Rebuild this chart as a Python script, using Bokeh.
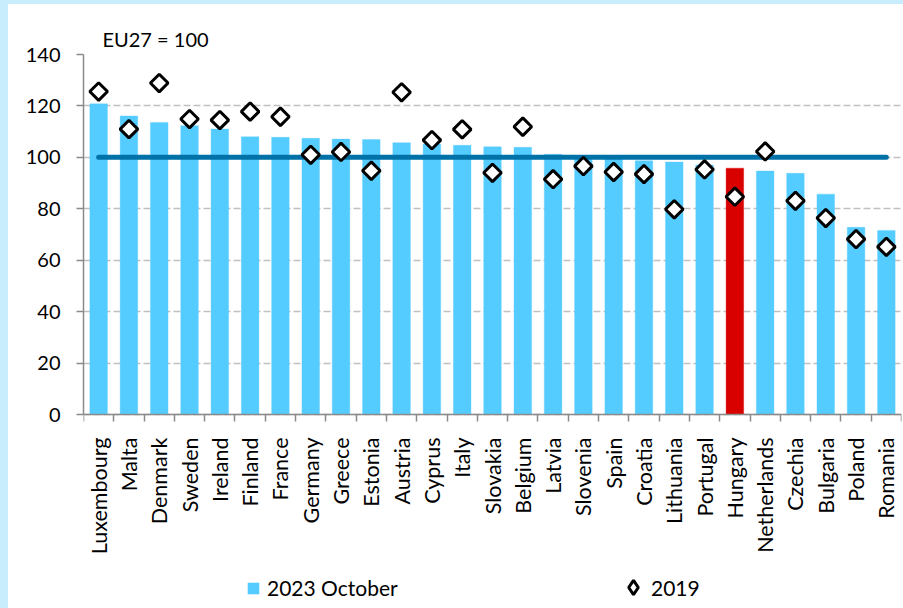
import math
from bokeh.plotting import figure
from bokeh.layouts import column, row
from bokeh.models import (ColumnDataSource, FixedTicker, Legend, LegendItem, Range1d,
                          Spacer)
from bokeh.embed import file_html
from bokeh.resources import INLINE

# ---- data ----
countries = ["Luxembourg", "Malta", "Denmark", "Sweden", "Ireland", "Finland", "France",
             "Germany", "Greece", "Estonia", "Austria", "Cyprus", "Italy", "Slovakia",
             "Belgium", "Latvia", "Slovenia", "Spain", "Croatia", "Lithuania", "Portugal",
             "Hungary", "Netherlands", "Czechia", "Bulgaria", "Poland", "Romania"]
values_2023_oct = [120.8, 116.1, 113.6, 112.3, 111.0, 108.0, 107.8, 107.4, 107.1, 106.9,
                   105.7, 105.2, 104.7, 104.1, 103.9, 101.2, 100.5, 99.6, 98.7, 98.2,
                   97.0, 95.8, 94.7, 93.8, 85.7, 72.8, 71.6]
values_2019 = [125.6, 111.0, 128.9, 114.9, 114.5, 117.8, 115.8, 101.0, 102.1, 94.8,
               125.3, 106.7, 110.9, 94.0, 111.9, 91.5, 96.6, 94.3, 93.5, 79.8,
               95.3, 84.7, 102.3, 83.1, 76.4, 68.2, 65.2]
eu27_reference = [100] * len(countries)
highlight_country = "Hungary"
y_ticks = [0, 20, 40, 60, 80, 100, 120, 140]
title_text = "EU27 = 100"
legend_bar_label = "2023 October"
legend_marker_label = "2019"

# ---- styles / layout ----
BAR = "#55CCFF"
HIGHLIGHT = "#D90000"
LINE = "#0072A8"
AXIS = "#8A8A8A"
FRAME_BG = "#C8EDFD"
FONT = "Lato"
EDGE_L, EDGE_T = 8, 4
W, H = 903 - EDGE_L, 608 - EDGE_T
TOP, ZERO_PX = 50, 410          # pixel rows (in the figure) of the top tick and of zero
y_low = -(y_ticks[-1] - y_ticks[0]) * (H - ZERO_PX) / (ZERO_PX - TOP)

n = len(countries)
xs = list(range(n))
colors = [HIGHLIGHT if c == highlight_country else BAR for c in countries]
src = ColumnDataSource(dict(x=xs, v23=values_2023_oct, v19=values_2019,
                            ref=eu27_reference, color=colors))

p = figure(width=W, height=H, output_backend="svg", toolbar_location=None,
           x_range=Range1d(-0.5, n - 0.5), y_range=Range1d(y_low, y_ticks[-1]),
           min_border_left=75, min_border_right=2, min_border_top=TOP,
           min_border_bottom=0, outline_line_color=None,
           background_fill_color="white", border_fill_color="white")

bars = p.vbar(x="x", top="v23", width=0.58, source=src, fill_color="color",
              line_color="color", line_alpha=0.35)
p.line(x="x", y="ref", source=src, line_width=5, line_color=LINE, line_cap="round")
# diamond used for the legend key; drawn small, hidden beneath the 2019 markers
key_diamond = p.scatter(x="x", y="v19", source=src, marker="diamond", size=7,
                        fill_color="white", line_color="black", line_width=3)
pts = p.scatter(x="x", y="v19", source=src, marker="square", size=12.5,
                angle=math.pi / 4, fill_color="white", line_color="black", line_width=3)

# title
p.title.text = title_text
p.title.align = "left"
p.title.offset = 19
p.title.standoff = 7
p.title.text_font = FONT
p.title.text_font_size = "20px"
p.title.text_font_style = "normal"
p.title.text_color = "black"

# y axis
p.yaxis.ticker = FixedTicker(ticks=y_ticks)
p.yaxis.bounds = (y_ticks[0], y_ticks[-1])
p.yaxis.axis_line_color = AXIS
p.yaxis.axis_line_width = 1.5
p.yaxis.major_tick_line_color = AXIS
p.yaxis.major_tick_line_width = 1.5
p.yaxis.major_tick_out = 7
p.yaxis.major_tick_in = 0
p.yaxis.minor_tick_line_color = None
p.yaxis.major_label_text_font = FONT
p.yaxis.major_label_text_font_size = "20px"
p.yaxis.major_label_text_color = "black"
p.yaxis.major_label_standoff = 16

p.ygrid.ticker = FixedTicker(ticks=y_ticks)
p.ygrid.grid_line_color = "#C0C0C0"
p.ygrid.grid_line_width = 1.4
p.ygrid.grid_line_dash = "7 3"
p.xgrid.grid_line_color = None

# x axis at value 0: labels at centres, ticks at category boundaries
boundaries = [i - 0.5 for i in range(n + 1)]
p.xaxis.fixed_location = y_ticks[0]
p.xaxis.ticker = FixedTicker(ticks=xs, minor_ticks=boundaries)
p.xaxis.major_label_overrides = {i: c for i, c in enumerate(countries)}
p.xaxis.major_label_orientation = math.pi / 2
p.xaxis.major_tick_out = 0
p.xaxis.major_tick_in = 0
p.xaxis.minor_tick_out = 7
p.xaxis.minor_tick_in = 0
p.xaxis.minor_tick_line_color = AXIS
p.xaxis.minor_tick_line_width = 1.5
p.xaxis.axis_line_color = AXIS
p.xaxis.axis_line_width = 1.5
p.xaxis.major_label_text_font = FONT
p.xaxis.major_label_text_font_size = "21.5px"
p.xaxis.major_label_text_color = "black"
p.xaxis.major_label_standoff = 16

common = dict(orientation="horizontal", padding=0, margin=0, border_line_color=None,
              background_fill_alpha=0, label_text_font=FONT,
              label_text_font_size="21px", label_text_color="black")
legend_a = Legend(items=[LegendItem(label=legend_bar_label, renderers=[bars], index=0)],
                  location=(163, 8), glyph_width=14, glyph_height=14,
                  label_standoff=7, **common)
legend_b = Legend(items=[LegendItem(label=legend_marker_label, renderers=[key_diamond],
                                    index=0)],
                  location=(532, 3), glyph_width=36, glyph_height=36,
                  label_standoff=0, **common)
p.add_layout(legend_a, "center")
p.add_layout(legend_b, "center")

bg = {"background-color": FRAME_BG}
page = column(Spacer(width=903, height=EDGE_T, styles=bg),
              row(Spacer(width=EDGE_L, height=H, styles=bg), p, spacing=0),
              spacing=0)

open("out.html", "w").write(file_html(page, INLINE))
